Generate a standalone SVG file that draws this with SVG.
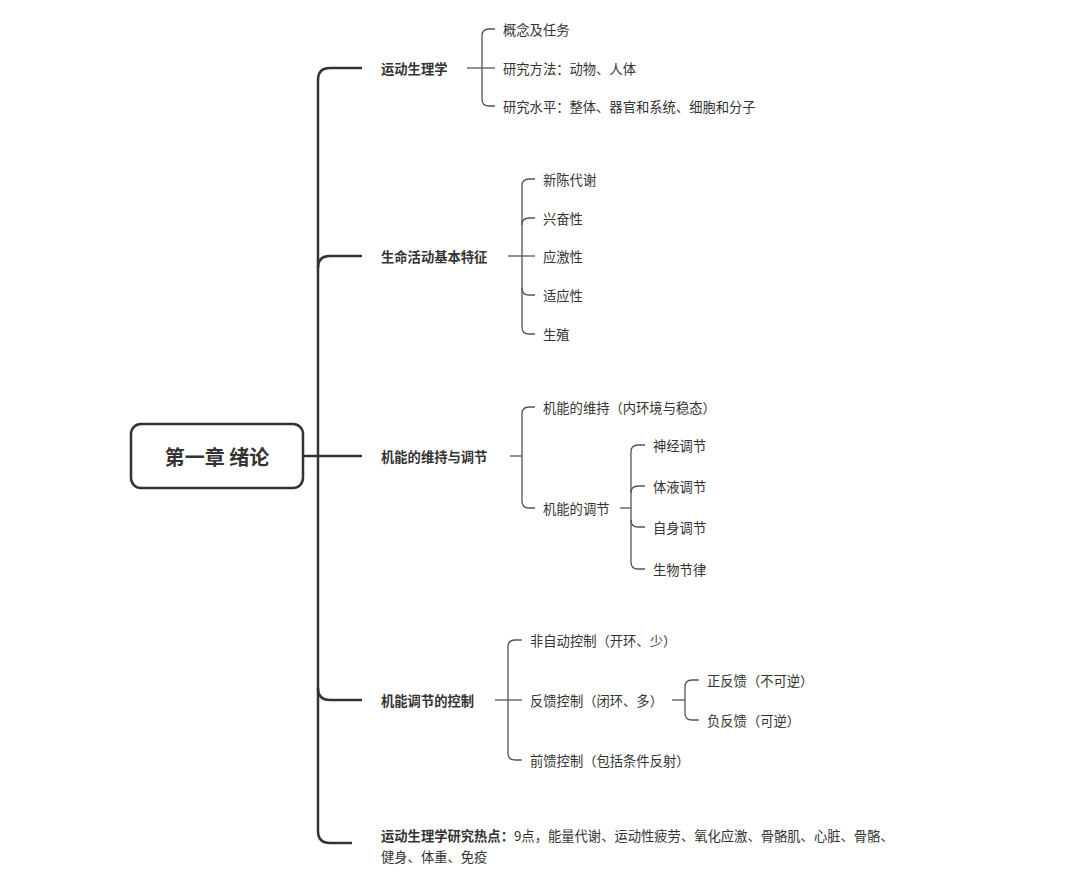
<svg xmlns="http://www.w3.org/2000/svg" width="1080" height="881" viewBox="0 0 1080 881">
<style>
text{font-family:"Noto Sans CJK SC","Noto Sans",sans-serif;fill:#333;dominant-baseline:central}
.l1{font-size:13.3px;font-weight:bold}
.l2{font-size:13.3px}
.root{font-size:20px;font-weight:bold;text-anchor:middle}
.trunk{fill:none;stroke:#333;stroke-width:2.5}
.sub{fill:none;stroke:#555;stroke-width:1.3}
</style>
<rect width="1080" height="881" fill="#fff"/>
<g id="connectors">
<path class="trunk" d="M303,456 H362"/>
<path class="trunk" d="M362,68 H330 Q318,68 318,80 V831 Q318,843 330,843 H352"/>
<path class="trunk" d="M362,256 H330 Q318,256 318,268"/>
<path class="trunk" d="M318,688 Q318,700 330,700 H362"/>
<path class="sub" d="M467,68 H495"/>
<path class="sub" d="M495,29 H489 Q482,29 482,36 V99 Q482,106 489,106 H495"/>
<path class="sub" d="M508,256 H535"/>
<path class="sub" d="M535,179 H529 Q522,179 522,186 V327 Q522,334 529,334 H535"/>
<path class="sub" d="M535,218 H529 Q522,218 522,225"/>
<path class="sub" d="M522,288 Q522,295 529,295 H535"/>
<path class="sub" d="M510,456 H522"/>
<path class="sub" d="M535,407 H529 Q522,407 522,414 V501 Q522,508 529,508 H535"/>
<path class="sub" d="M620,508 H631"/>
<path class="sub" d="M645,445 H638 Q631,445 631,452 V562 Q631,569 638,569 H645"/>
<path class="sub" d="M645,486 H638 Q631,486 631,493"/>
<path class="sub" d="M631,520 Q631,527 638,527 H645"/>
<path class="sub" d="M495,700 H522"/>
<path class="sub" d="M522,640 H515 Q508,640 508,647 V753 Q508,760 515,760 H522"/>
<path class="sub" d="M672,700 H685"/>
<path class="sub" d="M699,680 H692 Q685,680 685,687 V713 Q685,720 692,720 H699"/>
</g>
<g id="root">
<rect x="131" y="424" width="172" height="64" rx="10" fill="#fff" stroke="#333" stroke-width="2.5"/>
<text class="root" x="217" y="456">第一章 绪论</text>
</g>
<g id="n1"><text class="l1" x="381" y="68">运动生理学</text></g>
<g id="n1a"><text class="l2" x="503" y="29">概念及任务</text></g>
<g id="n1b"><text class="l2" x="503" y="68">研究方法：动物、人体</text></g>
<g id="n1c"><text class="l2" x="503" y="106">研究水平：整体、器官和系统、细胞和分子</text></g>
<g id="n2"><text class="l1" x="381" y="256">生命活动基本特征</text></g>
<g id="n2a"><text class="l2" x="543" y="179">新陈代谢</text></g>
<g id="n2b"><text class="l2" x="543" y="218">兴奋性</text></g>
<g id="n2c"><text class="l2" x="543" y="256">应激性</text></g>
<g id="n2d"><text class="l2" x="543" y="295">适应性</text></g>
<g id="n2e"><text class="l2" x="543" y="334">生殖</text></g>
<g id="n3"><text class="l1" x="381" y="456">机能的维持与调节</text></g>
<g id="n3a"><text class="l2" x="543" y="407">机能的维持（内环境与稳态）</text></g>
<g id="n3b"><text class="l2" x="543" y="508">机能的调节</text></g>
<g id="n3b1"><text class="l2" x="653" y="445">神经调节</text></g>
<g id="n3b2"><text class="l2" x="653" y="486">体液调节</text></g>
<g id="n3b3"><text class="l2" x="653" y="527">自身调节</text></g>
<g id="n3b4"><text class="l2" x="653" y="569">生物节律</text></g>
<g id="n4"><text class="l1" x="381" y="700">机能调节的控制</text></g>
<g id="n4a"><text class="l2" x="530" y="640">非自动控制（开环、少）</text></g>
<g id="n4b"><text class="l2" x="530" y="700">反馈控制（闭环、多）</text></g>
<g id="n4c"><text class="l2" x="530" y="760">前馈控制（包括条件反射）</text></g>
<g id="n4b1"><text class="l2" x="707" y="680">正反馈（不可逆）</text></g>
<g id="n4b2"><text class="l2" x="707" y="720">负反馈（可逆）</text></g>
<g id="n5">
<text class="l2" x="381" y="835"><tspan font-weight="bold">运动生理学研究热点：</tspan>9点，能量代谢、运动性疲劳、氧化应激、骨骼肌、心脏、骨骼、</text>
<text class="l2" x="381" y="856">健身、体重、免疫</text>
</g>
</svg>
